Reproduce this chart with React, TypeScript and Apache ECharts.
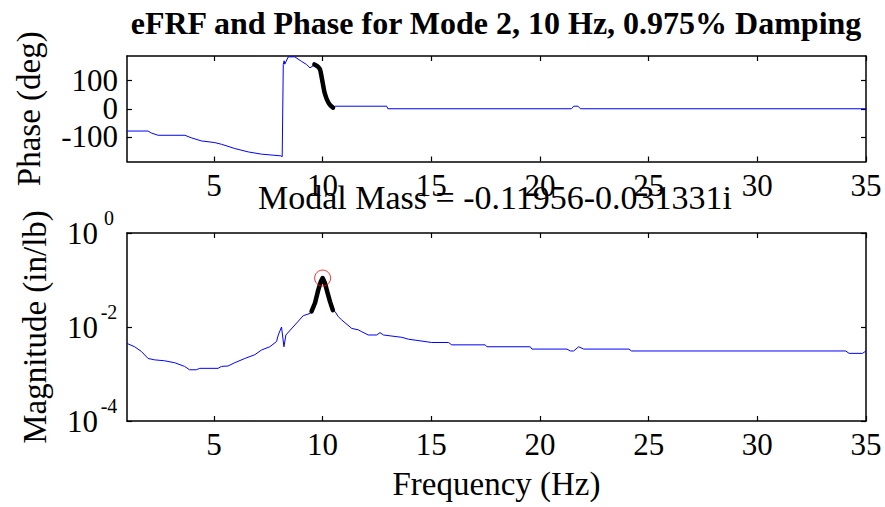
import React, { useEffect, useRef } from "react";
import * as echarts from "echarts";

const titleText = "eFRF and Phase for Mode 2, 10 Hz, 0.975% Damping";
const subTitleText = "Modal Mass = -0.11956-0.031331i";
const xTicks = [5, 10, 15, 20, 25, 30, 35];
const phaseTicks = [-100, 0, 100];
const phaseOuterLabels = [-100, 100];
const phaseMiddleLabels = [0];
const magTicks = [1e-4, 1e-2, 1];

const phaseFreq = [1.0, 1.97, 2.12, 2.43, 3.66, 3.96, 4.42, 5.04, 5.35, 5.96, 6.58, 7.19, 8.08, 8.14, 8.19, 8.23, 8.26, 8.42, 8.72, 9.03, 9.26, 9.42, 9.57, 9.62, 9.77, 9.88, 9.96, 10.02, 10.08, 10.14, 10.2, 10.28, 10.38, 10.48, 10.57, 12.95, 13.0, 21.45, 21.55, 21.75, 21.86, 35.0];
const phaseDeg = [-79, -79, -86, -94, -94, -103, -114, -120, -126, -141, -153, -161, -167, -170, 157, 170, 158, 184, 184, 168, 157, 145, 153, 157, 150, 139, 110, 85, 60, 45, 32, 20, 10, 4, 9, 9, 0, 0, 9, 9, 0, 0];

const phaseFitFreq = [9.62, 9.77, 9.88, 9.96, 10.02, 10.08, 10.14, 10.2, 10.28, 10.38, 10.48];
const phaseFitDeg = [157, 150, 139, 110, 85, 60, 45, 32, 20, 10, 4];

const magFreq = [1.0, 1.35, 1.66, 1.97, 2.27, 2.73, 3.19, 3.65, 3.88, 4.19, 4.35, 5.19, 5.35, 5.65, 5.96, 6.42, 6.88, 7.19, 7.57, 7.88, 7.96, 8.11, 8.22, 8.31, 8.72, 9.11, 9.43, 9.49, 9.65, 9.8, 9.92, 10.0, 10.11, 10.23, 10.34, 10.47, 10.57, 10.72, 10.88, 11.34, 11.64, 11.8, 12.1, 12.49, 12.64, 12.8, 13.64, 13.95, 15.02, 15.79, 15.94, 17.48, 17.56, 19.55, 19.63, 21.24, 21.4, 21.55, 21.78, 22.01, 24.09, 24.21, 34.07, 34.22, 34.84, 35.0];
const magVal = [0.00447, 0.0038, 0.00302, 0.00214, 0.002, 0.00191, 0.00174, 0.00145, 0.00123, 0.00123, 0.00132, 0.00132, 0.00145, 0.00148, 0.00174, 0.00214, 0.00257, 0.00324, 0.0038, 0.0049, 0.00676, 0.01, 0.0038, 0.00676, 0.011, 0.0174, 0.0195, 0.0214, 0.0324, 0.0617, 0.0933, 0.11, 0.0851, 0.0525, 0.0347, 0.0229, 0.0214, 0.0166, 0.0141, 0.00933, 0.00871, 0.00794, 0.00676, 0.00676, 0.00759, 0.00676, 0.00603, 0.0055, 0.00468, 0.00468, 0.00417, 0.00417, 0.0038, 0.0038, 0.00339, 0.00339, 0.00309, 0.00309, 0.0038, 0.00339, 0.00339, 0.00309, 0.00309, 0.00275, 0.00275, 0.00309];

const magFitFreq = [9.49, 9.65, 9.8, 9.92, 10.0, 10.11, 10.23, 10.34, 10.47];
const magFitVal = [0.0214, 0.0324, 0.0617, 0.0933, 0.11, 0.0851, 0.0525, 0.0347, 0.0229];

const peakFreq = [10.0];
const peakVal = [0.11];

const FONT = '"Liberation Serif", "Times New Roman", Times, serif';

const zip = (a: number[], b: number[]) => a.map((v, i) => [v, b[i]]);

export default function App() {
  const ref = useRef<HTMLDivElement>(null);

  useEffect(() => {
    document.body.style.margin = "0";
    if (!ref.current) return;
    const chart = echarts.init(ref.current, undefined, { renderer: "svg" });

    const lineStyle = { color: "#000", width: 1.5 };
    const tick = (vals: number[]) => ({
      show: true,
      inside: true,
      length: 5,
      customValues: vals,
      lineStyle: { color: "#000", width: 1.2 },
    });
    const labelStyle = { fontFamily: FONT, fontSize: 31, color: "#000", hideOverlap: false };
    const nameStyle = { fontFamily: FONT, fontSize: 33, color: "#000" };

    const option: any = {
      animation: false,
      backgroundColor: "#ffffff",
      title: [
        {
          text: titleText,
          left: 496,
          top: 7,
          padding: 0,
          textAlign: "center",
          textStyle: { fontFamily: FONT, fontSize: 32, fontWeight: "bold", color: "#000" },
        },
        {
          text: subTitleText,
          left: 495,
          top: 180,
          padding: 0,
          textAlign: "center",
          textStyle: { fontFamily: FONT, fontSize: 34, fontWeight: "normal", color: "#000" },
        },
      ],
      grid: [
        { left: 127, top: 56, width: 739, height: 105.5 },
        { left: 127, top: 233, width: 739, height: 188 },
      ],
      xAxis: [
        {
          gridIndex: 0,
          type: "value",
          min: 1,
          max: 35,
          position: "bottom",
          axisLine: { show: true, onZero: false, lineStyle },
          axisTick: tick(xTicks),
          axisLabel: { ...labelStyle, customValues: xTicks, margin: 8 },
          splitLine: { show: false },
        },
        {
          gridIndex: 0,
          type: "value",
          min: 1,
          max: 35,
          position: "top",
          axisLine: { show: true, onZero: false, lineStyle },
          axisTick: tick(xTicks),
          axisLabel: { show: false },
          splitLine: { show: false },
        },
        {
          gridIndex: 1,
          type: "value",
          min: 1,
          max: 35,
          position: "bottom",
          name: "Frequency (Hz)",
          nameLocation: "middle",
          nameGap: 46,
          nameTextStyle: nameStyle,
          axisLine: { show: true, onZero: false, lineStyle },
          axisTick: tick(xTicks),
          axisLabel: { ...labelStyle, customValues: xTicks, margin: 8 },
          splitLine: { show: false },
        },
        {
          gridIndex: 1,
          type: "value",
          min: 1,
          max: 35,
          position: "top",
          axisLine: { show: true, onZero: false, lineStyle },
          axisTick: tick(xTicks),
          axisLabel: { show: false },
          splitLine: { show: false },
        },
      ],
      yAxis: [
        {
          gridIndex: 0,
          type: "value",
          min: -187,
          max: 187,
          position: "left",
          name: "Phase (deg)",
          nameLocation: "middle",
          nameRotate: 90,
          nameGap: 82,
          nameTextStyle: nameStyle,
          axisLine: { show: true, onZero: false, lineStyle },
          axisTick: tick(phaseTicks),
          axisLabel: {
            ...labelStyle,
            showMinLabel: true,
            showMaxLabel: true,
            customValues: phaseOuterLabels,
            margin: 9,
          },
          splitLine: { show: false },
        },
        {
          gridIndex: 0,
          type: "value",
          min: -187,
          max: 187,
          position: "right",
          axisLine: { show: true, onZero: false, lineStyle },
          axisTick: tick(phaseTicks),
          axisLabel: { show: false },
          splitLine: { show: false },
        },
        {
          gridIndex: 1,
          type: "log",
          logBase: 10,
          min: 1e-4,
          max: 1,
          splitNumber: 2,
          position: "left",
          name: "Magnitude (in/lb)",
          nameLocation: "middle",
          nameRotate: 90,
          nameGap: 76,
          nameTextStyle: nameStyle,
          axisLine: { show: true, onZero: false, lineStyle },
          axisTick: tick(magTicks),
          axisLabel: {
            ...labelStyle,
            customValues: magTicks,
            margin: 9,
            formatter: (v: number) => `{base|10}{sup|${Math.round(Math.log10(v))}}`,
            rich: {
              base: { fontFamily: FONT, fontSize: 31, color: "#000" },
              sup: {
                fontFamily: FONT,
                fontSize: 20,
                color: "#000",
                padding: [0, 0, 30, 2],
                width: 18,
                align: "left",
              },
            },
          },
          splitLine: { show: false },
        },
        {
          gridIndex: 1,
          type: "log",
          logBase: 10,
          min: 1e-4,
          max: 1,
          splitNumber: 2,
          position: "right",
          axisLine: { show: true, onZero: false, lineStyle },
          axisTick: tick(magTicks),
          axisLabel: { show: false },
          splitLine: { show: false },
        },
        {
          gridIndex: 0,
          type: "value",
          min: -187,
          max: 187,
          position: "left",
          axisLine: { show: false, onZero: false },
          axisTick: { show: false },
          axisLabel: {
            ...labelStyle,
            showMinLabel: true,
            showMaxLabel: true,
            customValues: phaseMiddleLabels,
            margin: 9,
          },
          splitLine: { show: false },
        },
      ],
      series: [
        {
          type: "line",
          xAxisIndex: 0,
          yAxisIndex: 0,
          data: zip(phaseFreq, phaseDeg),
          showSymbol: false,
          lineStyle: { color: "#0000ff", width: 1 },
          z: 2,
        },
        {
          type: "line",
          xAxisIndex: 0,
          yAxisIndex: 0,
          data: zip(phaseFitFreq, phaseFitDeg),
          showSymbol: false,
          smooth: 0.3,
          lineStyle: { color: "#000000", width: 4.5, cap: "round", join: "round" },
          z: 3,
        },
        {
          type: "line",
          xAxisIndex: 2,
          yAxisIndex: 2,
          data: zip(magFreq, magVal),
          showSymbol: false,
          lineStyle: { color: "#0000ff", width: 1 },
          z: 2,
        },
        {
          type: "line",
          xAxisIndex: 2,
          yAxisIndex: 2,
          data: zip(magFitFreq, magFitVal),
          showSymbol: false,
          lineStyle: { color: "#000000", width: 4.5, cap: "round", join: "round" },
          z: 3,
        },
        {
          type: "scatter",
          xAxisIndex: 2,
          yAxisIndex: 2,
          data: zip(peakFreq, peakVal),
          symbol: "circle",
          symbolSize: 16,
          itemStyle: { color: "rgba(0,0,0,0)", borderColor: "#ff0000", borderWidth: 1 },
          z: 4,
        },
      ],
    };

    chart.setOption(option);
    return () => chart.dispose();
  }, []);

  return <div ref={ref} style={{ width: 885, height: 507 }} />;
}
